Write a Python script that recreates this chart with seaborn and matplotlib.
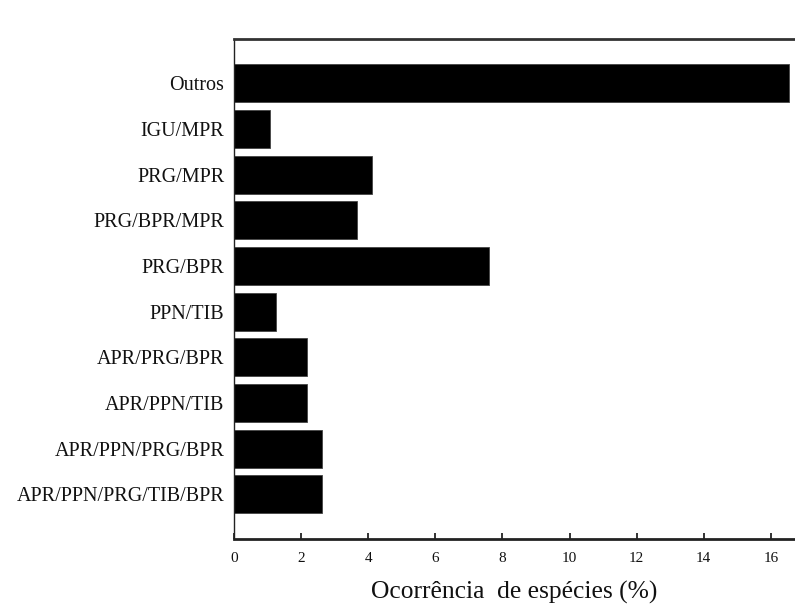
import pandas as pd
import matplotlib
matplotlib.use("Agg")
import matplotlib.pyplot as plt
import seaborn as sns

# dati
categorie = ['Outros', 'IGU/MPR', 'PRG/MPR', 'PRG/BPR/MPR', 'PRG/BPR',
             'PPN/TIB', 'APR/PRG/BPR', 'APR/PPN/TIB', 'APR/PPN/PRG/BPR',
             'APR/PPN/PRG/TIB/BPR']
valori = [16.54, 1.07, 4.12, 3.67, 7.6, 1.24, 2.19, 2.19, 2.63, 2.63]
x_ticks = [0, 2, 4, 6, 8, 10, 12, 14, 16]

df = pd.DataFrame({'Categoria': categorie, 'Valore': valori})

sns.set_theme(style="white")
plt.rcParams['font.family'] = ['Liberation Serif', 'DejaVu Serif']

fig = plt.figure(figsize=(7.95, 6.07), dpi=100)
ax = fig.add_axes([0.2943, 0.112, 0.7057, 0.8245])

sns.barplot(data=df, x='Valore', y='Categoria', order=categorie,
            color='black', saturation=1, width=0.83, orient='h', ax=ax,
            edgecolor='#444444', linewidth=0.6)

ax.set_xlim(0, 16.72)
ax.set_ylim(9.98, -0.98)
ax.set_xticks(x_ticks)
ax.set_xticklabels([str(t) for t in x_ticks], fontsize=11)
ax.tick_params(axis='x', bottom=True, direction='in', length=4, width=1.2,
               pad=9, colors='#111111')
ax.tick_params(axis='y', left=False, length=0, labelsize=14.5, pad=7)
for lab in ax.get_yticklabels():
    lab.set_color('#111111')

ax.set_ylabel('')
ax.set_xlabel('Ocorrência  de espécies (%)', fontsize=18.4, labelpad=12,
              color='#111111')

ax.spines['right'].set_visible(False)
ax.spines['top'].set_linewidth(2)
ax.spines['top'].set_color('#333333')
ax.spines['bottom'].set_linewidth(2)
ax.spines['bottom'].set_color('#222222')
ax.spines['left'].set_linewidth(1)
ax.spines['left'].set_color('#222222')

fig.savefig('out.png', dpi=100)
